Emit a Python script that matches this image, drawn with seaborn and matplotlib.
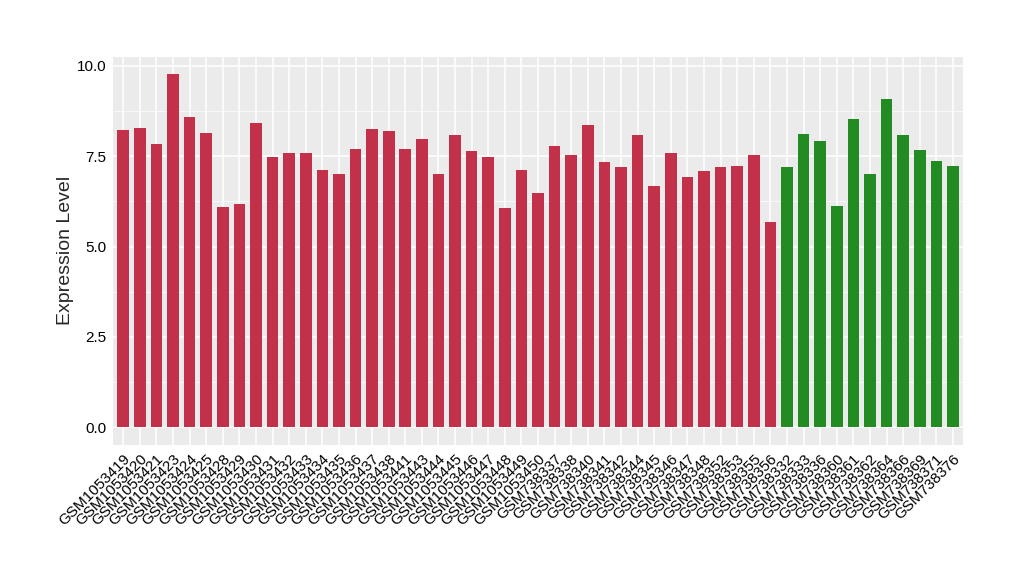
import matplotlib
matplotlib.use("Agg")
import matplotlib.pyplot as plt
import seaborn as sns
import pandas as pd
from matplotlib.ticker import MultipleLocator, FormatStrFormatter

# sample ids, red group then green group
ids_red = ["GSM1053419", "GSM1053420", "GSM1053421", "GSM1053423", "GSM1053424",
           "GSM1053425", "GSM1053428", "GSM1053429", "GSM1053430", "GSM1053431",
           "GSM1053432", "GSM1053433", "GSM1053434", "GSM1053435", "GSM1053436",
           "GSM1053437", "GSM1053438", "GSM1053441", "GSM1053443", "GSM1053444",
           "GSM1053445", "GSM1053446", "GSM1053447", "GSM1053448", "GSM1053449",
           "GSM1053450", "GSM738337", "GSM738338", "GSM738340", "GSM738341",
           "GSM738342", "GSM738344", "GSM738345", "GSM738346", "GSM738347",
           "GSM738348", "GSM738352", "GSM738353", "GSM738355", "GSM738356"]
vals_red = [8.23, 8.29, 7.85, 9.77, 8.59, 8.15, 6.09, 6.17, 8.42, 7.49,
            7.60, 7.60, 7.13, 7.02, 7.71, 8.26, 8.21, 7.71, 7.98, 7.02,
            8.09, 7.63, 7.49, 6.06, 7.13, 6.47, 7.77, 7.52, 8.37, 7.33,
            7.19, 8.09, 6.67, 7.60, 6.92, 7.10, 7.21, 7.24, 7.52, 5.68]

ids_green = ["GSM738332", "GSM738333", "GSM738336", "GSM738360", "GSM738361",
             "GSM738362", "GSM738364", "GSM738366", "GSM738369", "GSM738371",
             "GSM738376"]
vals_green = [7.19, 8.12, 7.93, 6.12, 8.53, 7.02, 9.08, 8.09, 7.68, 7.38, 7.24]

df = pd.DataFrame({
    "sample": ids_red + ids_green,
    "expr": vals_red + vals_green,
    "group": ["a"] * len(ids_red) + ["b"] * len(ids_green),
})

sns.set_style("white")
plt.rcParams["font.family"] = ["Liberation Sans", "DejaVu Sans"]

fig = plt.figure(figsize=(10.2, 5.8), dpi=100)
ax = fig.add_axes([0.111, 0.233, 0.833, 0.669])

sns.barplot(data=df, x="sample", y="expr", hue="group",
            palette={"a": "#C3304A", "b": "#228B22"}, saturation=1,
            linewidth=0, edgecolor="none",
            dodge=False, width=0.7, legend=False, ax=ax, zorder=3)

ax.set_facecolor("#EBEBEB")
ax.set_xlim(-0.6, len(df) - 0.4)
ax.set_ylim(-0.49, 10.25)
ax.yaxis.set_major_locator(MultipleLocator(2.5))
ax.yaxis.set_minor_locator(MultipleLocator(1.25))
ax.yaxis.set_major_formatter(FormatStrFormatter("%.1f"))
ax.grid(True, which="major", color="white", linewidth=1.1, zorder=0)
ax.grid(True, which="minor", axis="y", color="white", linewidth=0.5, zorder=0)
ax.set_axisbelow(True)
for s in ax.spines.values():
    s.set_visible(False)

ax.tick_params(axis="both", which="major", length=3, color="#333333",
               labelsize=11, labelcolor="black", pad=2)
ax.tick_params(axis="y", which="minor", length=0)
plt.setp(ax.get_xticklabels(), rotation=45, ha="right", rotation_mode="anchor")

ax.set_xlabel("")
ax.set_ylabel("Expression Level", fontsize=14, labelpad=2)

fig.savefig("out.png", dpi=100)
